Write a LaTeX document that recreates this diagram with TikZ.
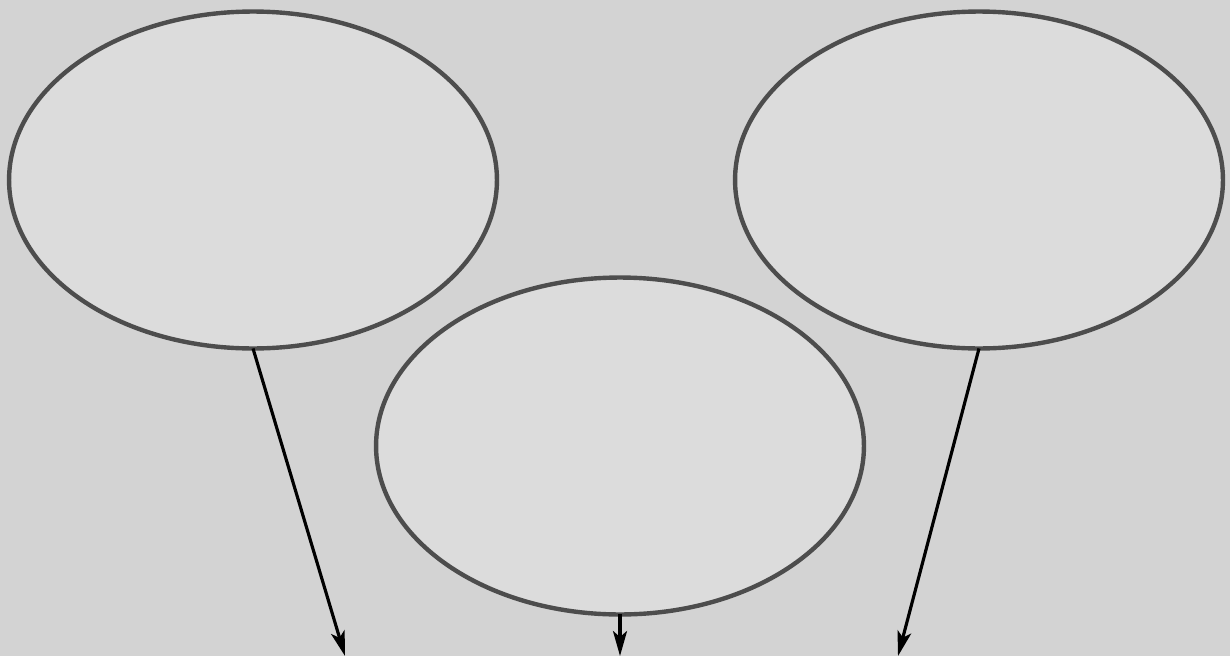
\documentclass[tikz,border=0pt]{standalone}
\usetikzlibrary{arrows.meta,shapes.geometric}
\definecolor{canvasfill}{HTML}{D3D3D3}
\definecolor{blobfill}{HTML}{DCDCDC}
\definecolor{blobstroke}{HTML}{4D4D4D}
\tikzset{
  blob/.style={
    ellipse,
    draw=blobstroke,
    fill=blobfill,
    line width=2.5pt,
    minimum width=9.76cm,
    minimum height=6.74cm,
    inner sep=0pt,
    outer sep=0pt
  },
  pointer/.style={
    -{Stealth[length=5mm,width=2.8mm,inset=1.2mm]},
    draw=black,
    line width=1.8pt
  }
}
\begin{document}
\begin{tikzpicture}[x=0.02cm,y=-0.02cm]
  \path[fill=canvasfill] (0,0) rectangle (1230,656);
  \useasboundingbox (0,0) rectangle (1230,656);

  \node[blob] (left) at (253,180) {};
  \node[blob] (middle) at (620,446) {};
  \node[blob] (right) at (979,180) {};

  \coordinate (leftend) at (345,656);
  \coordinate (middleend) at (620,656);
  \coordinate (rightend) at (898,656);

  % Downward pointers.
  \draw[pointer] (left.south) -- (leftend);
  \draw[pointer] (middle.south) -- (middleend);
  \draw[pointer] (right.south) -- (rightend);
\end{tikzpicture}
\end{document}
